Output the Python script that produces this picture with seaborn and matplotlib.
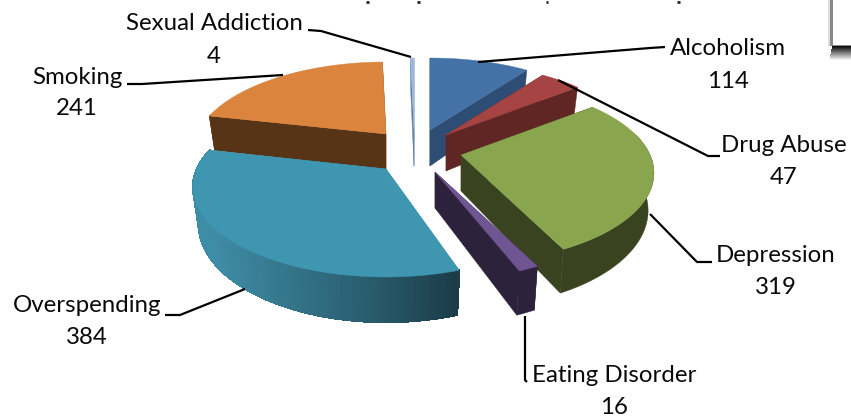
import numpy as np
import matplotlib
matplotlib.use("Agg")
import matplotlib.pyplot as plt
from matplotlib.patches import Polygon, Rectangle
import seaborn as sns

# ---- data ----
categories = ["Alcoholism", "Drug Abuse", "Depression", "Eating Disorder",
              "Overspending", "Smoking", "Sexual Addiction"]
values = [114, 47, 319, 16, 384, 241, 4]

# ---- style ----
top_colors = ["#4472A6", "#A54442", "#89A54E", "#6F5591", "#3F96B0", "#DB843D", "#9DB8DE"]
wall_colors = ["#2D4D74", "#5F2624", "#3A431F", "#2D223C", "#3E8DA6", "#573416", "#5F7FA8"]
wall_end = {4: "#1A3A46"}
apex = [(430, 130), (446, 135), (461, 155), (435, 172), (386, 169), (386, 134), (414, 130)]
start_nudge = [0, 0, 0, 0, 3.0, 1.0, 0]
end_nudge = [0, 0, 0, 0, 1.5, 0, 0]
draw_order = [6, 0, 5, 1, 2, 4, 3]
RX, RY, PERSP, DEPTH = 189.0, 86.4, 0.2, 36.0

sns.set_theme(style="white")
plt.rcParams["font.family"] = ["Lato", "DejaVu Sans"]

fig = plt.figure(figsize=(8.51, 4.17), dpi=100)
ax = fig.add_axes([0, 0, 1, 1])

# Slice angles come from the library's own pie layout
wedges, _ = ax.pie(values, startangle=90, counterclock=False)
spans = [(w.theta1 - e, w.theta2 - n) for w, n, e in zip(wedges, start_nudge, end_nudge)]
for w in wedges:
    w.remove()
ax.set_aspect("auto")
ax.set_xlim(0, 851)
ax.set_ylim(417, 0)
ax.axis("off")


def project(theta_deg, r, origin, drop=0.0):
    """Perspective view of a point on a flat disc, theta in matplotlib degrees."""
    t = np.radians(theta_deg)
    u, v = r * np.cos(t), r * np.sin(t)
    s = 1.0 / (1.0 + PERSP * v)
    return origin[0] + RX * u * s * (1 - 0.03 * (drop > 0)), origin[1] - RY * v * s + drop * s


def lerp_hex(a, b, f):
    ca, cb = np.array(matplotlib.colors.to_rgb(a)), np.array(matplotlib.colors.to_rgb(b))
    return tuple(ca + (cb - ca) * f)


z = 2
for i in draw_order:
    t1, t2 = spans[i]
    o = apex[i]
    thetas = np.linspace(t1, t2, max(int((t2 - t1) / 1.0), 3))
    top = [project(t, 1, o) for t in thetas]
    low = [project(t, 1, o, DEPTH) for t in thetas]
    ap_low = (o[0], o[1] + DEPTH)
    # cut faces
    for edge, edge_low in ((top[0], low[0]), (top[-1], low[-1])):
        ax.add_patch(Polygon([o, edge, edge_low, ap_low], closed=True, fc=wall_colors[i],
                             ec=wall_colors[i], lw=0.3, zorder=z))
    z += 1
    # outer rim, only the part that faces the viewer
    vis = [k for k in range(len(thetas)) if np.sin(np.radians(thetas[k])) <= 0.25]
    if len(vis) > 1:
        if i in wall_end:
            for a, b in zip(vis[:-1], vis[1:]):
                xm = (top[a][0] - top[-1][0]) / (top[0][0] - top[-1][0])
                c = lerp_hex(wall_end[i], wall_colors[i], np.clip(xm, 0, 1) ** 0.9)
                ax.add_patch(Polygon([top[a], top[b], low[b], low[a]], closed=True,
                                     fc=c, ec=c, lw=1.0, antialiased=False, zorder=z))
        else:
            ring = [top[k] for k in vis] + [low[k] for k in reversed(vis)]
            ax.add_patch(Polygon(ring, closed=True, fc=wall_colors[i], ec=wall_colors[i],
                                 lw=0.3, zorder=z))
    z += 1
    ax.add_patch(Polygon([o] + top, closed=True, fc=top_colors[i], ec=top_colors[i],
                         lw=0.3, zorder=z))
    z += 1

# Leader lines and labels
leaders = {
    "Sexual Addiction": [(308, 30), (321, 31), (411, 57)],
    "Alcoholism": [(665, 47), (650, 48), (478, 62)],
    "Smoking": [(127, 84), (142, 84), (283, 75)],
    "Drug Abuse": [(720, 156), (708, 156), (558, 80)],
    "Depression": [(712, 262), (697, 262), (650, 214)],
    "Overspending": [(165, 315), (180, 315), (245, 289)],
    "Eating Disorder": [(527, 382), (525, 380), (525, 316)],
}
label_pos = {
    "Sexual Addiction": (214, 23, 56),
    "Alcoholism": (728, 48, 81),
    "Smoking": (77, 77, 108),
    "Drug Abuse": (784, 145, 177),
    "Depression": (776, 255, 288),
    "Overspending": (87, 306, 338),
    "Eating Disorder": (614, 375, 407),
}
for name, val in zip(categories, values):
    xs, ys = zip(*leaders[name])
    ax.plot(xs, ys, color="black", lw=1.6, zorder=60, solid_capstyle="butt")
    x, y1, y2 = label_pos[name]
    ax.text(x, y1, name, ha="center", va="center", fontsize=17.3, color="#0A0A0A", zorder=70)
    ax.text(x, y2, str(val), ha="center", va="center", fontsize=17.3, color="#0A0A0A", zorder=70)

# Cropped box in the top-right corner
for k, a in enumerate(np.linspace(0.95, 0.05, 14)):
    ax.add_patch(Rectangle((832 - k * 0.2, 46 + k), 30, 1, fc="black", ec="none", alpha=a, zorder=80))
ax.add_patch(Rectangle((828, -5), 30, 51, fc="#BDBDBD", ec="none", alpha=0.5, zorder=80))
ax.add_patch(Rectangle((830, -5), 30, 51, fc="#8A8A8A", ec="none", zorder=81))
ax.add_patch(Rectangle((833, -5), 30, 50, fc="white", ec="none", zorder=82))

# Descenders of the cropped title at the top edge
for x0, x1 in [(366, 369), (417, 420), (546, 548), (677, 680)]:
    ax.plot([x0, x1], [1.5, 1.5], color="#222222", lw=2, zorder=90, solid_capstyle="butt")

fig.savefig("out.png", dpi=100, facecolor="white")
